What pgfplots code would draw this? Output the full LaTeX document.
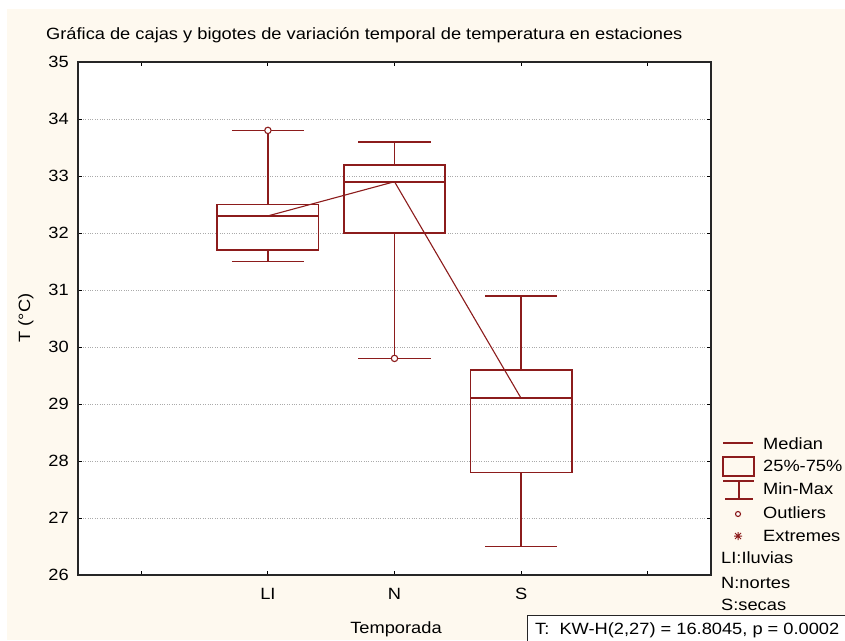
\documentclass[border=0pt]{standalone}
\usepackage{pgfplots}
\pgfplotsset{compat=1.18}
\usepackage{fontspec}
\setmainfont{Liberation Sans}[FakeStretch=1.12]
\definecolor{boxred}{RGB}{140,28,28}
\definecolor{cream}{RGB}{254,249,239}
\definecolor{gridgray}{RGB}{170,170,170}

\begin{document}
\begin{tikzpicture}
\fontsize{16.3}{19}\selectfont
\useasboundingbox (0,0) rectangle (845pt,640pt);
\fill[white] (0,0) rectangle (845pt,640pt);
\fill[cream] (7pt,0) rectangle (845pt,631pt);

\begin{axis}[
  at={(78pt,65pt)}, anchor=south west,
  width=633pt, height=513pt, scale only axis,
  xmin=-0.5, xmax=4.5, ymin=26, ymax=35,
  xtick={0,1,2,3,4}, xticklabels={,LI,N,S,},
  ytick={26,27,...,35},
  tick align=inside, tick pos=both,
  major tick length=4pt,
  every tick/.style={black, line width=1pt},
  axis line style={black!85, line width=1.3pt},
  axis background/.style={fill=white},
  ymajorgrids, grid style={gridgray, dotted, line width=0.9pt},
  ticklabel style={font=\fontsize{16.3}{19}\selectfont},
  /pgf/number format/assume math mode=true,
  yticklabel style={anchor=east, inner sep=0pt, xshift=-9pt},
  xticklabel style={anchor=north, inner sep=0pt, yshift=-13pt},
  unbounded coords=jump,
  every axis plot/.append style={boxred, line join=miter},
]
% box = quartiles, inner line = median, whiskers = min/max
% LI (x=1): min 31.5, q1 31.7, median 32.3, q3 32.5, max 33.8
\addplot[line width=1.8pt] coordinates {
  (0.6,31.7) (1.4,31.7) (1.4,32.5) (0.6,32.5) (0.6,31.7) (1.4,31.7)
  (1,nan) (0.6,32.3) (1.4,32.3)
  (1,nan) (1,32.5) (1,33.8)
  (1,nan) (0.715,33.8) (1.285,33.8)
  (1,nan) (1,31.7) (1,31.5)
  (1,nan) (0.715,31.5) (1.285,31.5)};
% N (x=2): min 29.8, q1 32.0, median 32.9, q3 33.2, max 33.6
\addplot[line width=1.8pt] coordinates {
  (1.6,32.0) (2.4,32.0) (2.4,33.2) (1.6,33.2) (1.6,32.0) (2.4,32.0)
  (2,nan) (1.6,32.9) (2.4,32.9)
  (2,nan) (2,33.2) (2,33.6)
  (2,nan) (1.715,33.6) (2.285,33.6)
  (2,nan) (2,32.0) (2,29.8)
  (2,nan) (1.715,29.8) (2.285,29.8)};
% S (x=3): min 26.5, q1 27.8, median 29.1, q3 29.6, max 30.9
\addplot[line width=1.8pt] coordinates {
  (2.6,27.8) (3.4,27.8) (3.4,29.6) (2.6,29.6) (2.6,27.8) (3.4,27.8)
  (3,nan) (2.6,29.1) (3.4,29.1)
  (3,nan) (3,29.6) (3,30.9)
  (3,nan) (2.715,30.9) (3.285,30.9)
  (3,nan) (3,27.8) (3,26.5)
  (3,nan) (2.715,26.5) (3.285,26.5)};
% medians joined
\addplot[line width=1.1pt] coordinates {(1,32.3) (2,32.9) (3,29.1)};
% outliers
\addplot[only marks, mark=*, mark size=3.2pt,
  mark options={draw=boxred, fill=white, line width=1.1pt}]
  coordinates {(1,33.8) (2,29.8)};
\end{axis}

\begin{scope}[yshift=640pt, x=1pt, y=-1pt]
  % title and axis labels
  \node[anchor=base west, inner sep=0] at (46,40)
    {Gráfica de cajas y bigotes de variación temporal de temperatura en estaciones};
  \node[rotate=90, inner sep=0] at (26,318) {T (°C)};
  \node[anchor=base, inner sep=0] at (396,633) {Temporada};

  % legend
  \draw[boxred, line width=1.8pt] (723,443) -- (753,443);
  \draw[boxred, line width=1.8pt] (723,457) rectangle (754,476);
  \draw[boxred, line width=1.8pt] (723,481) -- (754,481)
    (739,481) -- (739,499) (725,499) -- (753,499);
  \draw[boxred, line width=1.1pt, fill=white] (738,514) circle (2.5);
  \draw[boxred, line width=1pt] (734,536) -- (742,536) (738,532) -- (738,540)
    (735,533) -- (741,539) (735,539) -- (741,533);
  \begin{scope}[every node/.style={anchor=west, inner sep=0}]
    \node at (763,444) {Median};
    \node at (763,466) {25\%-75\%};
    \node at (763,489) {Min-Max};
    \node at (763,513) {Outliers};
    \node at (763,536) {Extremes};
    \node at (721,558) {LI:Iluvias};
    \node at (721,582.5) {N:nortes};
    \node at (721,604.5) {S:secas};
  \end{scope}

  % test statistic
  \draw[black!85, line width=1pt, fill=white] (527,615) rectangle (850,645);
  \node[anchor=base west, inner sep=0] at (535,634)
    {T:\ \ KW-H(2,27) = 16.8045, p = 0.0002};
\end{scope}
\end{tikzpicture}
\end{document}
